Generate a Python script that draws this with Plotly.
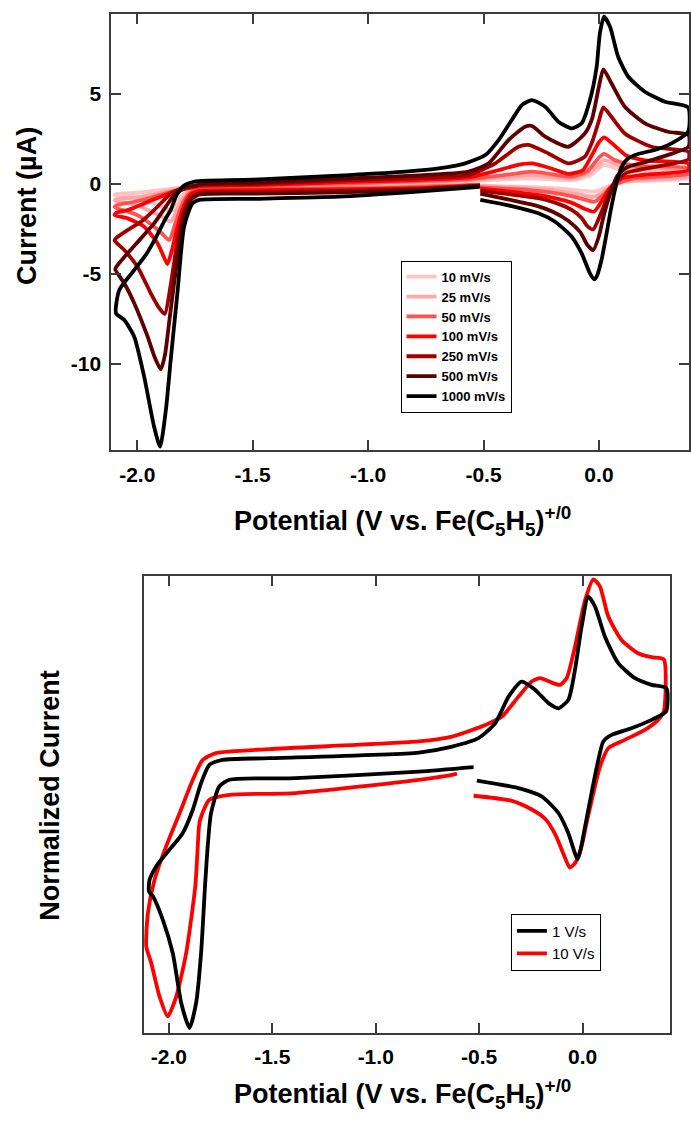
import plotly.graph_objects as go

# ---------------- Top panel: scan-rate series (potential in V, current in µA) ----------------
rate_labels = ["10 mV/s", "25 mV/s", "50 mV/s", "100 mV/s", "250 mV/s", "500 mV/s", "1000 mV/s"]
rate_colors = ["#ffc4c4", "#ffa8a8", "#ff5252", "#ff0000", "#a00000", "#5c0000", "#000000"]

v_10 = [-0.515, -1.0, -1.5, -1.73, -1.77, -1.81, -1.85, -1.89, -1.93, -2.0, -2.098,
        -2.09, -2.0, -1.9, -1.83, -1.76, -1.5, -1.0, -0.565, -0.29, -0.12, -0.04, 0.022, 0.1, 0.388,
        0.388, 0.1, 0.03, -0.02, -0.08, -0.2, -0.514]
i_10 = [-0.05, -0.18, -0.2, -0.24, -0.35, -0.7, -1.5, -1.3, -1.1, -0.8, -0.63,
        -0.58, -0.5, -0.35, -0.25, -0.16, -0.14, 0.0, 0.15, 0.30, 0.2, 0.45, 1.04, 0.75, 0.48,
        0.3, 0.1, -0.2, -0.44, -0.38, -0.25, -0.1]

v_25 = [-0.515, -1.0, -1.5, -1.73, -1.77, -1.80, -1.83, -1.855, -1.89, -1.93, -2.0, -2.098,
        -2.09, -2.0, -1.9, -1.83, -1.76, -1.5, -1.0, -0.565, -0.29, -0.12, -0.04, 0.022, 0.1, 0.388,
        0.388, 0.1, 0.03, -0.02, -0.08, -0.2, -0.514]
i_25 = [-0.06, -0.2, -0.24, -0.28, -0.4, -0.8, -1.5, -2.1, -1.85, -1.6, -1.2, -0.92,
        -0.85, -0.75, -0.5, -0.3, -0.18, -0.12, 0.02, 0.2, 0.48, 0.3, 0.6, 1.31, 0.95, 0.67,
        0.4, 0.15, -0.35, -0.72, -0.6, -0.35, -0.12]

v_50 = [-0.515, -1.0, -1.5, -1.73, -1.77, -1.80, -1.83, -1.862, -1.89, -1.927, -1.999, -2.098,
        -2.09, -2.013, -1.927, -1.840, -1.77, -1.5, -1.0, -0.565, -0.4, -0.29, -0.2, -0.12, -0.05, 0.0, 0.022, 0.07, 0.15, 0.388,
        0.388, 0.15, 0.06, 0.02, -0.02, -0.07, -0.15, -0.3, -0.514]
i_50 = [-0.07, -0.25, -0.28, -0.32, -0.5, -1.0, -2.0, -3.12, -2.8, -2.38, -1.74, -1.3,
        -1.2, -1.0, -0.72, -0.39, -0.2, -0.1, 0.05, 0.25, 0.5, 0.67, 0.52, 0.39, 0.7, 1.45, 1.65, 1.3, 1.0, 0.85,
        0.55, 0.3, -0.1, -0.6, -1.0, -0.85, -0.6, -0.35, -0.2]

v_100 = [-0.515, -0.8, -1.13, -1.5, -1.73, -1.77, -1.80, -1.83, -1.85, -1.869, -1.89, -1.912, -1.970, -2.042, -2.098,
         -2.09, -2.042, -1.970, -1.898, -1.840, -1.783, -1.72, -1.5, -1.08, -0.8, -0.565, -0.45, -0.35, -0.29, -0.22, -0.13, -0.07, -0.03, 0.0, 0.022, 0.06, 0.12, 0.2, 0.388,
         0.388, 0.2, 0.1, 0.05, 0.02, -0.022, -0.06, -0.12, -0.25, -0.514]
i_100 = [-0.08, -0.25, -0.32, -0.35, -0.4, -0.6, -1.3, -2.6, -3.7, -4.45, -3.9, -3.30, -2.38, -1.92, -1.74,
         -1.6, -1.46, -1.09, -0.72, -0.44, -0.26, -0.13, -0.08, 0.1, 0.2, 0.35, 0.7, 1.05, 1.13, 0.9, 0.55, 0.75, 1.6, 2.3, 2.57, 2.2, 1.55, 1.3, 1.1,
         0.75, 0.5, 0.3, -0.2, -0.8, -1.55, -1.4, -1.05, -0.65, -0.27]

v_250 = [-0.515, -0.8, -1.13, -1.5, -1.73, -1.77, -1.80, -1.83, -1.855, -1.881, -1.91, -1.941, -1.999, -2.056, -2.098,
         -2.09, -2.042, -1.984, -1.927, -1.876, -1.840, -1.783, -1.72, -1.5, -1.08, -0.8, -0.565, -0.449, -0.349, -0.306, -0.219, -0.133, -0.061, -0.03, 0.0, 0.019, 0.054, 0.112, 0.227, 0.388,
         0.388, 0.25, 0.12, 0.07, 0.04, 0.01, -0.025, -0.05, -0.075, -0.118, -0.19, -0.262, -0.378, -0.514]
i_250 = [-0.1, -0.3, -0.4, -0.45, -0.5, -0.8, -1.6, -3.5, -5.6, -7.22, -6.8, -6.08, -4.6, -3.68, -3.15,
         -3.0, -2.57, -2.11, -1.46, -0.81, -0.44, -0.17, -0.05, -0.02, 0.2, 0.3, 0.48, 1.13, 2.05, 2.15, 1.68, 1.13, 1.50, 2.3, 3.5, 4.23, 3.71, 2.79, 2.05, 1.77,
         1.35, 0.95, 0.6, 0.1, -0.6, -1.6, -2.53, -2.35, -1.9, -1.45, -1.05, -0.8, -0.6, -0.38]

v_500 = [-0.515, -0.8, -1.13, -1.5, -1.73, -1.77, -1.80, -1.83, -1.86, -1.88, -1.898, -1.925, -1.955, -2.013, -2.056, -2.095,
         -2.09, -2.042, -1.984, -1.927, -1.876, -1.840, -1.797, -1.754, -1.70, -1.5, -1.08, -0.8, -0.565, -0.478, -0.392, -0.320, -0.29, -0.233, -0.133, -0.061, -0.03, 0.0, 0.019, 0.054, 0.112, 0.199, 0.299, 0.388,
         0.388, 0.30, 0.20, 0.12, 0.08, 0.05, 0.02, 0.0, -0.025, -0.05, -0.08, -0.133, -0.2, -0.276, -0.40, -0.514]
i_500 = [-0.12, -0.35, -0.48, -0.55, -0.6, -0.9, -2.0, -4.5, -7.5, -9.5, -10.29, -9.6, -8.48, -6.63, -5.52, -4.75,
         -4.6, -3.86, -3.03, -2.20, -1.27, -0.63, -0.26, -0.13, 0.0, 0.05, 0.3, 0.45, 0.67, 1.13, 2.42, 3.16, 3.20, 2.61, 2.05, 2.79, 3.6, 5.4, 6.34, 5.57, 4.27, 3.35, 2.88, 2.70,
         2.05, 1.6, 1.2, 0.9, 0.45, -0.5, -1.8, -2.9, -3.68, -3.4, -2.7, -2.05, -1.55, -1.2, -0.85, -0.55]

v_1000 = [-0.517, -0.8, -1.126, -1.5, -1.731, -1.761, -1.797, -1.826, -1.855, -1.876, -1.901, -1.927, -1.970, -2.013, -2.056, -2.092,
          -2.078, -2.02, -1.963, -1.92, -1.88, -1.855, -1.83, -1.80, -1.754, -1.696, -1.5, -1.083, -0.838, -0.694, -0.579, -0.492, -0.435, -0.378, -0.334, -0.291, -0.233, -0.176, -0.118, -0.075, -0.039, -0.010, 0.004, 0.022, 0.048, 0.083, 0.127, 0.199, 0.285, 0.386,
          0.386, 0.314, 0.242, 0.170, 0.127, 0.098, 0.076, 0.054, 0.033, 0.011, -0.010, -0.020, -0.039, -0.075, -0.118, -0.190, -0.262, -0.378, -0.514]
i_1000 = [-0.17, -0.45, -0.72, -0.84, -0.90, -1.09, -2.38, -6.06, -9.77, -12.55, -14.58, -13.47, -10.70, -8.48, -7.56, -7.18,
          -5.9, -4.9, -3.95, -3.0, -2.0, -1.45, -0.65, -0.12, 0.11, 0.17, 0.22, 0.48, 0.67, 0.85, 1.13, 1.59, 2.42, 3.53, 4.36, 4.64, 4.27, 3.44, 3.07, 3.35, 4.64, 6.49, 8.34, 9.26, 8.70, 7.04, 5.93, 5.10, 4.55, 4.23,
          2.88, 2.24, 1.87, 1.65, 1.41, 0.94, 0.02, -1.27, -2.75, -4.23, -5.15, -5.30, -4.97, -3.86, -2.94, -2.11, -1.64, -1.24, -0.90]

top_series = [(v_10, i_10), (v_25, i_25), (v_50, i_50), (v_100, i_100),
              (v_250, i_250), (v_500, i_500), (v_1000, i_1000)]

# ---------------- Bottom panel: normalized current at 1 V/s and 10 V/s ----------------
v_1vs = [-0.527, -0.792, -1.386, -1.707, -1.756, -1.796, -1.812, -1.825, -1.844, -1.868, -1.900, -1.940, -1.981, -2.029, -2.077, -2.096,
         -2.093, -2.061, -1.997, -1.933, -1.884, -1.844, -1.804, -1.740, -1.515, -0.792, -0.631, -0.503, -0.422, -0.358, -0.294, -0.229, -0.165, -0.117, -0.069, -0.037, -0.005, 0.027, 0.060, 0.108, 0.172, 0.253, 0.333, 0.405,
         0.403, 0.333, 0.236, 0.140, 0.100, 0.076, 0.043, 0.012, -0.024, -0.069, -0.117, -0.198, -0.31, -0.511]
n_1vs = [-0.14, -0.39, -0.75, -0.84, -1.21, -2.68, -4.5, -6.7, -10.38, -13.13, -14.51, -13.13, -10.38, -8.55, -7.26, -6.99,
         -6.35, -5.61, -4.69, -3.78, -2.49, -1.02, -0.02, 0.26, 0.35, 0.66, 0.99, 1.45, 2.28, 3.74, 4.57, 4.11, 3.38, 3.10, 3.56, 5.21, 7.59, 9.25, 8.70, 7.04, 5.58, 4.76, 4.39, 4.20,
         2.92, 2.46, 2.0, 1.63, 1.27, 0.26, -1.57, -3.41, -5.2, -3.78, -2.67, -1.76, -1.30, -0.88]

v_10vs = [-0.607, -0.631, -0.792, -1.386, -1.707, -1.804, -1.85, -1.862, -1.872, -1.916, -1.964, -2.005, -2.045, -2.085, -2.109,
          -2.101, -2.069, -2.013, -1.948, -1.884, -1.836, -1.772, -1.515, -0.792, -0.631, -0.470, -0.390, -0.310, -0.246, -0.205, -0.149, -0.109, -0.077, -0.037, 0.012, 0.052, 0.084, 0.124, 0.188, 0.268, 0.333, 0.392,
          0.392, 0.365, 0.301, 0.204, 0.124, 0.084, 0.052, 0.019, -0.005, -0.035, -0.062, -0.09, -0.13, -0.18, -0.25, -0.342, -0.527]
n_10vs = [-0.50, -0.57, -0.84, -1.57, -1.67, -1.94, -3.1, -4.9, -6.7, -10.38, -12.77, -13.87, -12.77, -10.93, -10.02,
          -8.18, -6.35, -4.51, -2.68, -0.84, 0.26, 0.63, 0.85, 1.27, 1.54, 2.18, 2.64, 3.74, 4.57, 4.76, 4.51, 4.39, 4.76, 6.49, 9.06, 10.2, 9.80, 8.15, 6.86, 6.13, 5.91, 5.80,
          2.92, 2.46, 1.91, 1.36, 0.90, -0.11, -1.57, -3.23, -4.51, -5.4, -5.68, -5.0, -3.9, -3.0, -2.45, -2.0, -1.72]

x_tick_vals = [-2.0, -1.5, -1.0, -0.5, 0.0]
x_tick_text = ["-2.0", "-1.5", "-1.0", "-0.5", "0.0"]
y_tick_vals = [-10, -5, 0, 5]
y_tick_text = ["-10", "-5", "0", "5"]

FONT = "Liberation Sans, Arial, sans-serif"
AXIS_COLOR = "#3c3c3c"
LINE_W = 3.8

fig = go.Figure()

for (vx, iy), name, color in zip(top_series, rate_labels, rate_colors):
    fig.add_trace(go.Scatter(
        x=vx, y=iy, mode="lines", name=name,
        line=dict(color=color, width=LINE_W, shape="spline", smoothing=0.6),
        xaxis="x", yaxis="y", legend="legend",
    ))

fig.add_trace(go.Scatter(
    x=v_10vs, y=n_10vs, mode="lines", name="10 V/s",
    line=dict(color="#ff0000", width=LINE_W, shape="spline", smoothing=0.6),
    xaxis="x2", yaxis="y2", legend="legend2",
))
fig.add_trace(go.Scatter(
    x=v_1vs, y=n_1vs, mode="lines", name="1 V/s",
    line=dict(color="#000000", width=LINE_W, shape="spline", smoothing=0.6),
    xaxis="x2", yaxis="y2", legend="legend2",
))

W, H = 691, 1127


def px_x(p):
    return p / W


def px_y(p):
    return 1 - p / H


common_axis = dict(
    showline=True, linecolor=AXIS_COLOR, linewidth=2, mirror="allticks",
    ticks="inside", ticklen=10, tickwidth=1.5, tickcolor=AXIS_COLOR,
    showgrid=False, zeroline=False,
    tickfont=dict(family=FONT, size=21, color="black", weight="bold"),
)

fig.update_layout(
    width=W, height=H,
    margin=dict(l=0, r=0, t=0, b=0),
    paper_bgcolor="white", plot_bgcolor="white",
    xaxis=dict(domain=[px_x(111.7), 1.0], range=[-2.112, 0.39], anchor="y",
               tickvals=x_tick_vals, ticktext=x_tick_text, ticklabelstandoff=4, **common_axis),
    yaxis=dict(domain=[px_y(450.3), px_y(14)], range=[-14.78, 9.41], anchor="x",
               tickvals=y_tick_vals, ticktext=y_tick_text, ticklabelstandoff=4, **common_axis),
    xaxis2=dict(domain=[px_x(144.3), px_x(672.3)], range=[-2.1205, 0.424], anchor="y2",
                tickvals=x_tick_vals, ticktext=x_tick_text, ticklabelstandoff=4, **common_axis),
    yaxis2=dict(domain=[px_y(1032.7), px_y(575.7)], range=[-14.77, 10.4], anchor="x2",
                showline=True, linecolor=AXIS_COLOR, linewidth=2, mirror=True,
                ticks="", showticklabels=False, showgrid=False, zeroline=False),
    legend=dict(x=px_x(401.7), y=px_y(260.7), xanchor="left", yanchor="top",
                bgcolor="white", bordercolor="black", borderwidth=1,
                font=dict(family=FONT, size=13, color="black", weight="bold")),
    legend2=dict(x=px_x(512.4), y=px_y(913.6), xanchor="left", yanchor="top",
                 bgcolor="white", bordercolor="black", borderwidth=1, traceorder="reversed",
                 font=dict(family=FONT, size=15, color="black")),
    showlegend=True,
)

title_font = dict(family=FONT, size=27, color="black", weight="bold")
x_title = "Potential (V vs. Fe(C<sub>5</sub>H<sub>5</sub>)<sup>+/0</sup>"

fig.add_annotation(text="Current (µA)", x=px_x(27), y=px_y(206), xref="paper", yref="paper",
                   textangle=-90, showarrow=False, font=title_font, xanchor="center", yanchor="middle")
fig.add_annotation(text=x_title, x=px_x(404), y=px_y(521), xref="paper", yref="paper",
                   showarrow=False, font=title_font, xanchor="center", yanchor="middle")
fig.add_annotation(text="Normalized Current", x=px_x(50), y=px_y(795), xref="paper", yref="paper",
                   textangle=-90, showarrow=False, font=title_font, xanchor="center", yanchor="middle")
fig.add_annotation(text=x_title, x=px_x(404), y=px_y(1094), xref="paper", yref="paper",
                   showarrow=False, font=title_font, xanchor="center", yanchor="middle")

fig.write_html("out.html")
